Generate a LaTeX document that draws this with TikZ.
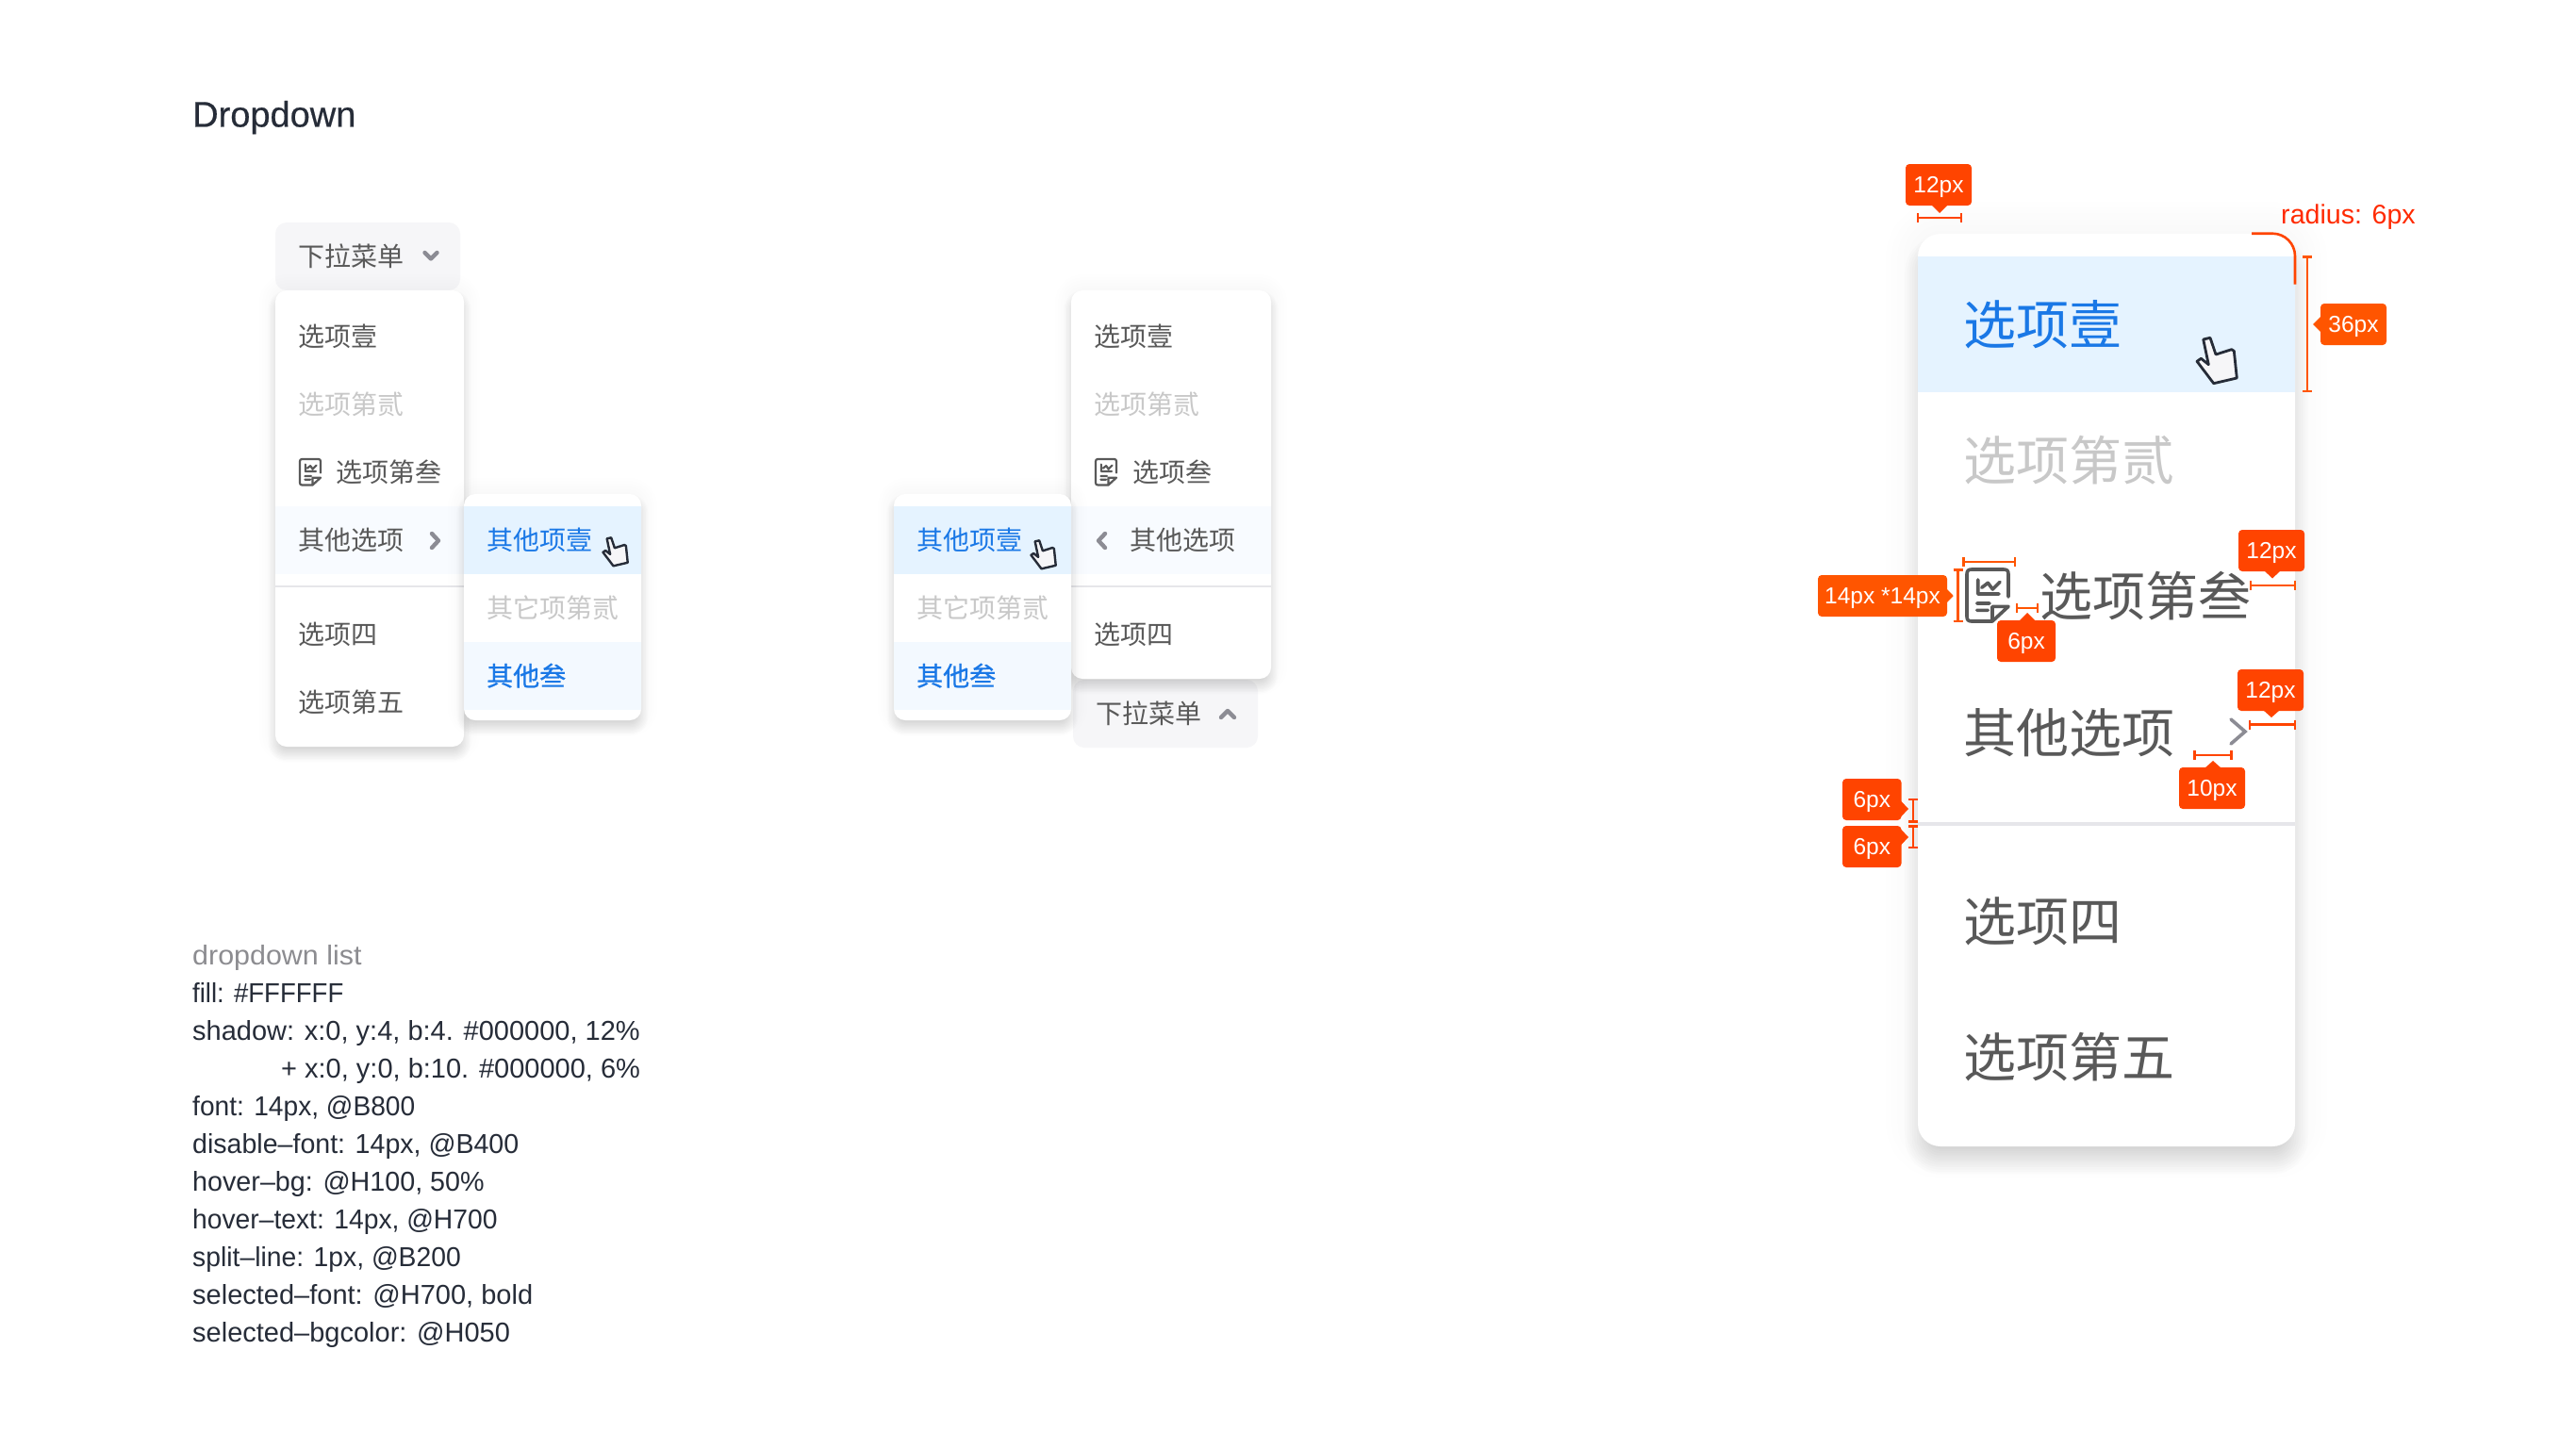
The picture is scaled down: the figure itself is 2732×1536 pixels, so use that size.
\documentclass[tikz,border=0pt]{standalone}
\usepackage{fontspec}
\setmainfont{Liberation Sans}
\newfontfamily\cjk{Noto Sans CJK SC}
\usetikzlibrary{calc}
\definecolor{txt}{HTML}{595959}
\definecolor{dis}{HTML}{C8C8C8}
\definecolor{blu}{HTML}{1A78E6}
\definecolor{hovb}{HTML}{E5F3FF}
\definecolor{selb}{HTML}{F3F9FF}
\definecolor{hovl}{HTML}{F8FBFF}
\definecolor{trig}{HTML}{F6F6F8}
\definecolor{spl}{HTML}{E6E6EA}
\definecolor{chev}{HTML}{8C8C94}
\definecolor{ink}{HTML}{262C38}
\definecolor{grey}{HTML}{8C8C90}
\definecolor{ora}{HTML}{FF4400}
\definecolor{orb}{HTML}{FF5500}
\definecolor{rad}{HTML}{FF2A00}
\tikzset{
  x=1pt,y=-1pt,
  lbl/.style={inner sep=0pt,anchor=base west,text=txt},
  listline/.style={inner sep=0pt,anchor=base west,text=ink,font=\fontsize{29}{32}\selectfont},
  chv/.style={draw=chev,line width=4.4pt,line cap=round,line join=round},
  chvbig/.style={draw=chev,line width=3.6pt,line cap=round,line join=miter},
  tagbox/.style={fill=#1,rounded corners=4pt,inner sep=0pt,text=white,font=\fontsize{24.5}{28}\selectfont},
  dimln/.style={draw=#1,line width=2.6pt},
  dimln/.default=ora
}
\newcommand{\st}[1]{\addfontfeature{FakeStretch=#1}}
% small CJK label: name, x, centre y, text
\newcommand{\sm}[5][txt]{\node[lbl,text=#1] (#2) at (#3,#4+10.4) {\fontsize{28}{30}\selectfont\cjk #5};}
\newcommand{\smb}[4]{\node[lbl,text=blu] (#1) at (#2,#3+10.4) {\fontsize{28}{30}\selectfont\cjk\addfontfeature{FakeBold=0.7}#4};}
\newcommand{\bg}[5][txt]{\node[lbl,text=#1] (#2) at (#3,#4+21) {\fontsize{56}{60}\selectfont\cjk #5};}
% soft shadow: x1,y1,x2,y2,radius,offset y,blur,alpha
\newcommand{\softsh}[8]{%
  \foreach \si in {1,...,12}{%
    \pgfmathsetmacro{\sp}{#7*(1.0-\si/6.5)}%
    \pgfmathsetmacro{\rr}{max(#5+\sp,1)}%
    \fill[black,opacity=#8/12,rounded corners=\rr pt] (#1-\sp,#2+#6-\sp) rectangle (#3+\sp,#4+#6+\sp);
  }%
}
\newcommand{\menush}[5]{\softsh{#1}{#2}{#3}{#4}{#5}{8}{9}{0.12}\softsh{#1}{#2}{#3}{#4}{#5}{0}{20}{0.06}}
% hand cursor: x,y,scale,line width
\newcommand{\hand}[4]{\begin{scope}[shift={(#1,#2)},scale=#3]
  \draw[fill=trig,draw=ink,line width=#4,line join=round]
   (-18.3,-22) -- (-11,-23.7) -- (-5,-6) -- (11.7,-11.3) -- (14.3,-9.7) -- (17.3,19) -- (-7.3,24.7) -- (-25,1.3) -- (-20.7,-1.7) -- (-12.7,4.7) -- cycle;
\end{scope}}
% document icon: x,y (top left), scale, line width
\newcommand{\docicon}[4]{\begin{scope}[shift={(#1,#2)},scale=#3]
  \draw[draw=txt,line width=#4,line join=round,line cap=round]
   (44,29) -- (44,5) .. controls (44,1.5) and (42.5,0) .. (39,0) -- (5,0) .. controls (1.5,0) and (0,1.5) .. (0,5) -- (0,50) .. controls (0,53.5) and (1.5,55) .. (5,55) -- (27,55) -- (44,39.3) -- (27,39.3) -- (27,55)
   (11.7,11) -- (11.7,26) -- (34,26)
   (15.7,19.3) -- (22.3,14.3) -- (27.3,21) -- (35,13.3)
   (10.7,36) -- (24,36)
   (10.7,43.3) -- (22.3,43.3);
\end{scope}}
\newcommand{\dimh}[4][ora]{\draw[dimln=#1] (#2,#4) -- (#3,#4) (#2,#4-5) -- (#2,#4+5) (#3,#4-5) -- (#3,#4+5);}
\newcommand{\dimv}[4][ora]{\draw[dimln=#1] (#2,#3) -- (#2,#4) (#2-5,#3) -- (#2+5,#3) (#2-5,#4) -- (#2+5,#4);}
% tag: name, colour, x1,y1,x2,y2, text
\newcommand{\tagn}[7]{\node[tagbox=#2,minimum width=#5-#3,minimum height=#6-#4] (#1) at ({(#3+#5)/2},{(#4+#6)/2}) {\raisebox{-8.8pt}[0pt][0pt]{#7}};}
\begin{document}
\begin{tikzpicture}
\useasboundingbox (0,0) rectangle (2732,1536);
\fill[white] (0,0) rectangle (2732,1536);
\node[inner sep=0pt,anchor=base west,text=ink] (title) at (204,134.5) {\fontsize{38}{42}\selectfont\addfontfeature{FakeBold=0.5}Dropdown};

% ---- left dropdown
\node[fill=trig,rounded corners=12pt,minimum width=196,minimum height=72,inner sep=0pt] (trig1) at (390,272) {};
\sm{t1}{316}{272}{下拉菜单}
\draw[chv] (450.5,268) -- (457,274.5) -- (463.5,268);
\menush{292}{308}{492}{792}{12}
\fill[white,rounded corners=12pt] (292,308) rectangle (492,792);
\fill[hovl] (292,537) rectangle (492,609);
\draw[spl,line width=2.5pt] (292,622) -- (492,622);
\sm{a1}{316}{357}{选项壹}
\sm[dis]{a2}{316}{429}{选项第贰}
\sm{a3}{356.5}{501}{选项第叁}
\sm{a4}{316}{573}{其他选项}
\sm{a5}{316}{673}{选项四}
\sm{a6}{316}{745}{选项第五}
\docicon{318}{487}{0.5}{2.2pt}
\draw[chv] (458,566) -- (465,573.5) -- (458,581);
\menush{492}{524}{680}{764}{12}
\fill[white,rounded corners=12pt] (492,524) rectangle (680,764);
\fill[hovb] (492,537) rectangle (680,609);
\fill[selb] (492,681) rectangle (680,753);
\sm[blu]{b1}{516}{573}{其他项壹}
\sm[dis]{b2}{516}{645}{其它项第贰}
\smb{b3}{516}{717}{其他叁}
\hand{655}{585}{0.62}{2.4pt}

% ---- right dropdown
\node[fill=trig,rounded corners=12pt,minimum width=196,minimum height=72,inner sep=0pt] (trig2) at (1236,757) {};
\sm{t2}{1162}{757}{下拉菜单}
\draw[chv] (1295,761) -- (1302,754) -- (1309,761);
\menush{1136}{308}{1348}{720}{12}
\fill[white,rounded corners=12pt] (1136,308) rectangle (1348,720);
\fill[hovl] (1136,537) rectangle (1348,609);
\draw[spl,line width=2.5pt] (1136,622) -- (1348,622);
\sm{c1}{1160}{357}{选项壹}
\sm[dis]{c2}{1160}{429}{选项第贰}
\sm{c3}{1201}{501}{选项叁}
\sm{c4}{1198}{573}{其他选项}
\sm{c5}{1160}{673}{选项四}
\docicon{1162}{487}{0.5}{2.2pt}
\draw[chv] (1172,566) -- (1165,573.5) -- (1172,581);
\menush{948}{524}{1136}{764}{12}
\fill[white,rounded corners=12pt] (948,524) rectangle (1136,764);
\fill[hovb] (948,537) rectangle (1136,609);
\fill[selb] (948,681) rectangle (1136,753);
\sm[blu]{d1}{972}{573}{其他项壹}
\sm[dis]{d2}{972}{645}{其它项第贰}
\smb{d3}{972}{717}{其他叁}
\hand{1109}{588}{0.62}{2.4pt}

% ---- spec list
\node[listline,text=grey] (l0) at (204,1023) {\st{1.05}dropdown list};
\node[listline] (l1) at (204,1063) {\st{0.95}fill: \#FFFFFF};
\node[listline] (l2) at (204,1103) {shadow: x:0, y:4, b:4. \#000000, 12\%};
\node[listline] (l3) at (298,1143) {+ x:0, y:0, b:10. \#000000, 6\%};
\node[listline] (l4) at (204,1183) {\st{0.97}font: 14px, @B800};
\node[listline] (l5) at (204,1223) {\st{0.985}disable–font: 14px, @B400};
\node[listline] (l6) at (204,1263) {\st{0.99}hover–bg: @H100, 50\%};
\node[listline] (l7) at (204,1303) {\st{0.974}hover–text: 14px, @H700};
\node[listline] (l8) at (204,1343) {\st{0.976}split–line: 1px, @B200};
\node[listline] (l9) at (204,1383) {selected–font: @H700, bold};
\node[listline] (l10) at (204,1423) {selected–bgcolor: @H050};

% ---- detail panel
\softsh{2034}{248}{2434}{1216}{24}{16}{16}{0.12}
\softsh{2034}{248}{2434}{1216}{24}{0}{40}{0.06}
\fill[white,rounded corners=24pt] (2034,248) rectangle (2434,1216);
\fill[hovb] (2034,272) rectangle (2434,416);
\draw[spl,line width=4pt] (2034,874) -- (2434,874);
\bg[blu]{p1}{2082}{344}{选项壹}
\bg[dis]{p2}{2082}{488.5}{选项第贰}
\bg{p3}{2163}{632}{选项第叁}
\bg{p4}{2082}{777}{其他选项}
\bg{p5}{2082}{977}{选项四}
\bg{p6}{2082}{1121}{选项第五}
\docicon{2086}{604}{1}{3.6pt}
\hand{2355}{382}{1}{2.8pt}
\draw[chvbig] (2366,763) -- (2381,776) -- (2366,789);

% radius mark
\draw[ora,line width=2.6pt] (2388,247.7) -- (2410,247.7) .. controls (2423.3,247.7) and (2434,258.4) .. (2434,271.7) -- (2434,301.7);
\node[inner sep=0pt,anchor=base west,text=rad] (radlab) at (2419,237) {\fontsize{28.6}{30}\selectfont radius: 6px};

% tags and measures
\fill[ora] (2048,217) -- (2057,226) -- (2066,217) -- cycle;
\tagn{g1}{ora}{2021}{174}{2091}{218}{12px}
\dimh{2034}{2080}{231}
\fill[orb] (2462,335) -- (2453,344) -- (2462,353) -- cycle;
\tagn{g2}{orb}{2461}{322}{2531}{366}{36px}
\dimv[orb]{2447}{272.7}{415}
\fill[orb] (2063,623) -- (2071.7,632) -- (2063,641) -- cycle;
\tagn{g3}{orb}{1928}{610}{2065}{654}{14px *14px}
\dimv[orb]{2076.7}{604.7}{659}
\dimh[orb]{2082.7}{2137}{596}
\fill[ora] (2141,659) -- (2150,650) -- (2159,659) -- cycle;
\tagn{g4}{ora}{2118}{658}{2180}{702}{6px}
\dimh[orb]{2139}{2161}{645}
\fill[ora] (2401,605) -- (2410,613.5) -- (2419,605) -- cycle;
\tagn{g5}{ora}{2374}{562}{2444}{606}{12px}
\dimh[orb]{2387}{2434}{621}
\fill[ora] (2400,753) -- (2409,761) -- (2418,753) -- cycle;
\tagn{g6}{ora}{2373}{710}{2443}{754}{12px}
\dimh{2386}{2434}{768.6}
\fill[ora] (2338,815) -- (2347,807) -- (2356,815) -- cycle;
\tagn{g7}{ora}{2311}{814}{2381}{858}{10px}
\dimh{2327.6}{2366.4}{801}
\fill[ora] (2015.5,849) -- (2024,858) -- (2015.5,867) -- cycle;
\tagn{g8}{ora}{1954}{826}{2016.5}{870}{6px}
\dimv{2029}{848}{871.5}
\fill[ora] (2015.5,879) -- (2024,888) -- (2015.5,897) -- cycle;
\tagn{g9}{ora}{1954}{876}{2016.5}{920}{6px}
\dimv{2029}{876.5}{899}
\end{tikzpicture}
\end{document}
